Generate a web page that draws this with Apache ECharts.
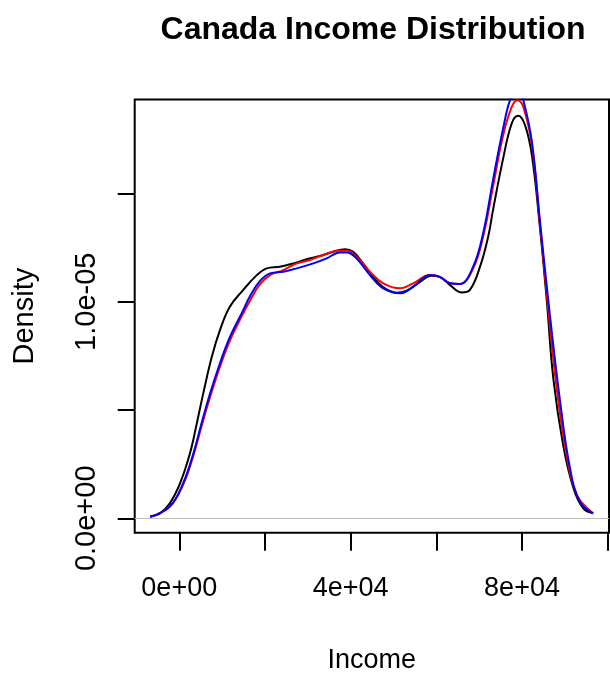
<!DOCTYPE html>
<html>
<head>
<meta charset="utf-8">
<script src="https://cdn.jsdelivr.net/npm/echarts@6/dist/echarts.min.js"></script>
<style>
html,body{margin:0;padding:0;background:#fff;}
#chart{width:610px;height:679px;}
</style>
</head>
<body>
<div id="chart"></div>
<script>
// Income values (x) and densities (y)
var blackX = [-6800,-4500,-2200,200,2500,4100,5600,7600,9500,11800,14900,18100,20400,23500,26600,29700,32800,35900,38700,40600,42900,45300,47600,50700,53100,56200,58900,60800,63200,65900,67800,70200,72100,73300,75600,77600,79100,80700,82300,84200,85800,87300,89600,92000,94300,96600];
var blackY = [0.07e-6,0.23e-6,0.69e-6,1.62e-6,3.00e-6,4.39e-6,5.77e-6,7.46e-6,8.69e-6,9.77e-6,10.54e-6,11.23e-6,11.54e-6,11.62e-6,11.77e-6,11.96e-6,12.11e-6,12.31e-6,12.43e-6,12.31e-6,11.77e-6,11.15e-6,10.67e-6,10.42e-6,10.51e-6,10.92e-6,11.20e-6,11.15e-6,10.77e-6,10.43e-6,10.54e-6,11.62e-6,13.00e-6,14.31e-6,16.62e-6,18.24e-6,18.59e-6,18.16e-6,16.77e-6,13.39e-6,10.00e-6,6.46e-6,3.38e-6,1.39e-6,0.46e-6,0.23e-6];

var redX = [-6800,-2200,900,3300,5200,7200,9500,11800,14900,16500,18800,21200,24300,27400,30500,33600,37100,39100,41400,44500,47600,51500,54600,58500,60800,63200,65500,68600,71000,73300,75600,77600,78900,80300,82300,84200,86100,88100,90400,92800,96600];
var redY = [0.07e-6,0.54e-6,1.55e-6,2.90e-6,4.25e-6,5.60e-6,7.00e-6,8.20e-6,9.45e-6,10.05e-6,10.80e-6,11.23e-6,11.46e-6,11.77e-6,11.93e-6,12.16e-6,12.36e-6,12.36e-6,12.08e-6,11.39e-6,10.85e-6,10.62e-6,10.85e-6,11.23e-6,11.15e-6,10.85e-6,10.82e-6,11.54e-6,13.08e-6,15.39e-6,17.70e-6,19.00e-6,19.31e-6,19.00e-6,17.24e-6,13.54e-6,9.70e-6,6.00e-6,2.92e-6,1.08e-6,0.23e-6];

var blueX = [-6800,-2200,900,3300,5200,7200,9500,11800,14900,16500,18800,21200,24300,27400,31300,34400,37500,39100,41400,44500,47600,51500,54600,58500,60800,63200,65500,68600,71000,73300,75600,77200,79000,80300,82300,84200,86500,88900,91200,93500,96600];
var blueY = [0.07e-6,0.54e-6,1.62e-6,3.00e-6,4.39e-6,5.77e-6,7.16e-6,8.36e-6,9.60e-6,10.25e-6,10.95e-6,11.31e-6,11.39e-6,11.54e-6,11.77e-6,12.00e-6,12.28e-6,12.28e-6,12.00e-6,11.23e-6,10.62e-6,10.39e-6,10.69e-6,11.23e-6,11.15e-6,10.85e-6,10.82e-6,11.62e-6,13.23e-6,15.70e-6,18.01e-6,19.31e-6,19.90e-6,19.31e-6,17.39e-6,13.69e-6,9.39e-6,5.38e-6,2.31e-6,0.77e-6,0.23e-6];

var xTickValues = [0,20000,40000,60000,80000,100000];
var xLabelValues = [0,40000,80000];
var xLabelTexts = {'0':'0e+00','40000':'4e+04','80000':'8e+04'};
var yTickValues = [0,5e-6,10e-6,15e-6];
var yLabelValues = [0,10e-6];
var yLabelTexts = ['0.0e+00','1.0e-05'];

function pairs(xs, ys){ return xs.map(function(x,i){ return [x, ys[i]]; }); }

var FONT = "'Liberation Sans', Arial, Helvetica, sans-serif";
var chart = echarts.init(document.getElementById('chart'), null, {renderer:'canvas'});
chart.setOption({
  backgroundColor:'#ffffff',
  animation:false,
  title:{
    text:'Canada Income Distribution',
    left:368, top:9, textAlign:'center',
    textStyle:{fontFamily:FONT, fontWeight:'bold', fontSize:32, color:'#000'}
  },
  grid:{left:134.7, top:99.5, right:1, bottom:146.3, show:true, borderColor:'#000', borderWidth:2, backgroundColor:'transparent'},
  xAxis:{
    type:'value', min:-10400, max:100300,
    name:'Income', nameLocation:'middle', nameGap:114, nameMoveOverlap:false,
    nameTextStyle:{fontFamily:FONT, fontSize:27, color:'#000'},
    splitLine:{show:false},
    axisLine:{show:false, onZero:false},
    axisTick:{show:true, customValues:xTickValues, length:18, lineStyle:{color:'#000', width:2}},
    axisLabel:{show:true, customValues:xLabelValues, margin:42, fontFamily:FONT, fontSize:27, color:'#000',
      formatter:function(v){ return xLabelTexts[String(v)]; }}
  },
  yAxis:{
    type:'value', min:-0.665e-6, max:19.34e-6,
    name:'Density', nameLocation:'middle', nameGap:95, nameRotate:90, nameMoveOverlap:false,
    nameTextStyle:{fontFamily:FONT, fontSize:29, color:'#000'},
    splitLine:{show:false},
    axisLine:{show:false, onZero:false},
    axisTick:{show:true, customValues:yTickValues, length:17, lineStyle:{color:'#000', width:2}},
    axisLabel:{show:true, customValues:yLabelValues, rotate:90, align:'center', verticalAlign:'bottom', margin:33,
      fontFamily:FONT, fontSize:29, color:'#000',
      formatter:function(v){ return v < 1e-7 ? yLabelTexts[0] : yLabelTexts[1]; }}
  },
  series:[
    {type:'line', name:'black', data:pairs(blackX, blackY), showSymbol:false, smooth:0.4, clip:true,
      lineStyle:{color:'#000000', width:2}, z:2,
      markLine:{silent:true, symbol:['none','none'], label:{show:false}, lineStyle:{color:'#bebebe', width:1, type:'solid'}, data:[{yAxis:0}]}},
    {type:'line', name:'red', data:pairs(redX, redY), showSymbol:false, smooth:0.4, clip:true,
      lineStyle:{color:'#ff0000', width:2}, z:3},
    {type:'line', name:'blue', data:pairs(blueX, blueY), showSymbol:false, smooth:0.4, clip:true,
      lineStyle:{color:'#0000ff', width:2}, z:4}
  ]
});
</script>
</body>
</html>
